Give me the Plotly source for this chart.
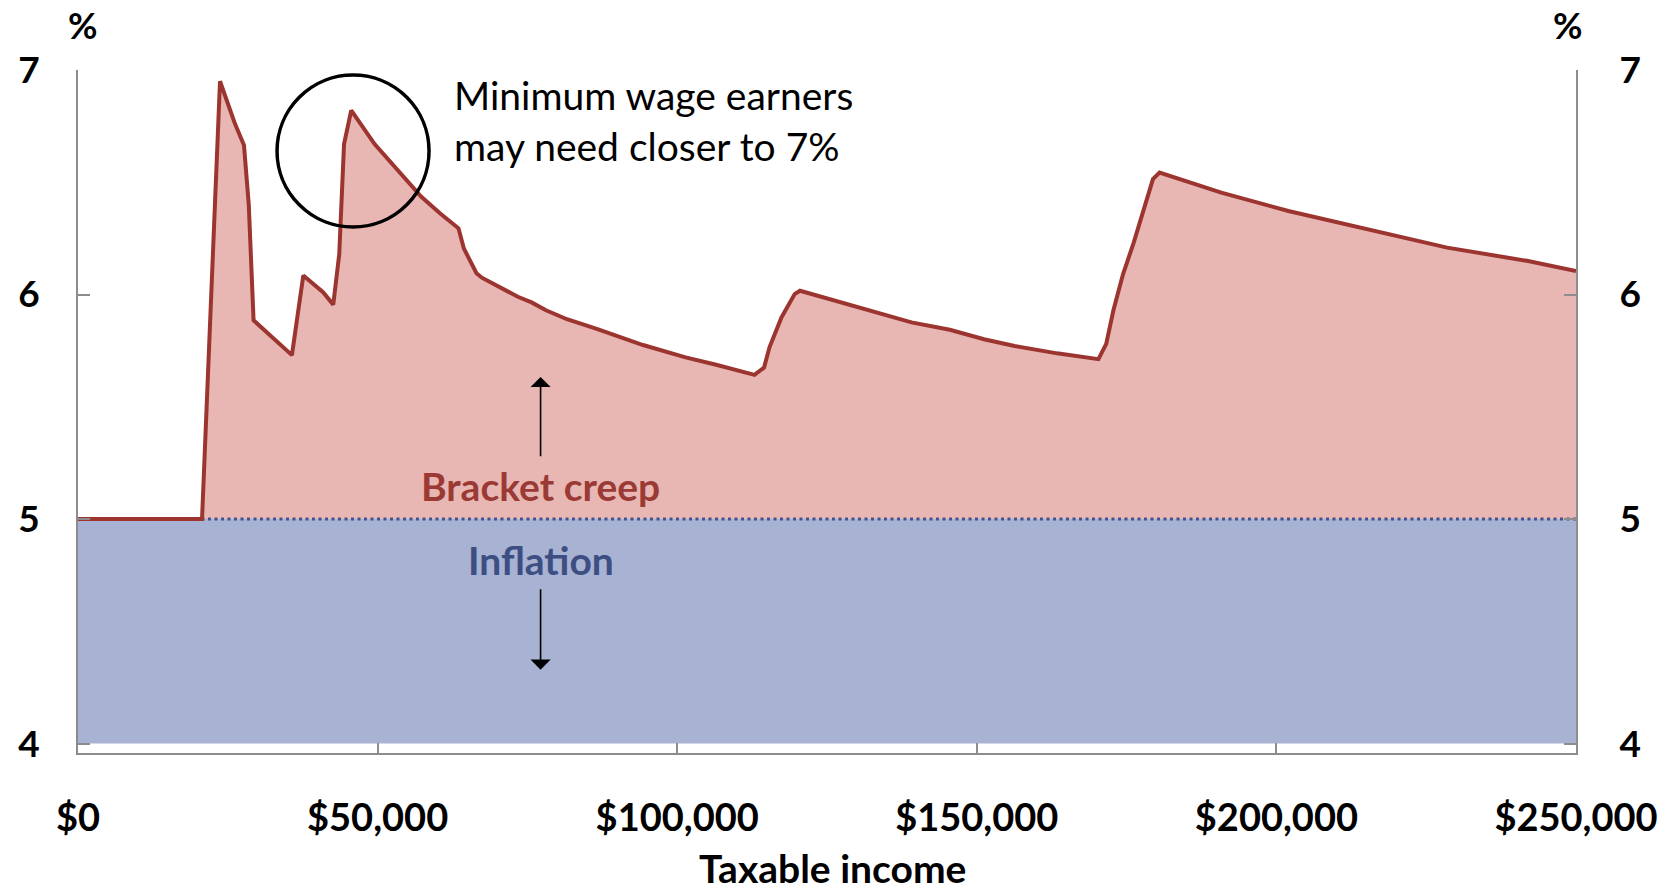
import plotly.graph_objects as go

# Required real increase in income (%) to keep average tax rate constant
income = [0, 20700, 23700, 26200, 27700, 28500, 29300, 33100, 35700, 37600,
          40900, 42600, 43600, 44400, 45600, 49500, 53700, 57300, 60500, 63500,
          64400, 66500, 67400, 70400, 73400, 75700, 78100, 81600, 86700, 94300,
          101400, 106500, 112900, 114500, 115400, 117400, 119600, 120500, 124400,
          131400, 139100, 145500, 151200, 156300, 163400, 170300, 171600, 172800,
          174400, 176200, 178200, 179400, 180500, 190800, 202000, 215300, 228500,
          241800, 250000]
required = [5.00, 5.00, 6.95, 6.76, 6.665, 6.40, 5.885, 5.79, 5.73, 6.085,
            6.01, 5.955, 6.18, 6.67, 6.82, 6.67, 6.54, 6.435, 6.36, 6.295,
            6.205, 6.095, 6.075, 6.03, 5.99, 5.965, 5.93, 5.89, 5.846, 5.775,
            5.72, 5.687, 5.642, 5.675, 5.765, 5.898, 6.002, 6.017, 5.988,
            5.935, 5.876, 5.843, 5.801, 5.771, 5.738, 5.712, 5.78, 5.93,
            6.09, 6.232, 6.402, 6.514, 6.543, 6.454, 6.372, 6.29, 6.209,
            6.15, 6.105]

inflation_x = [0, 250000]
inflation = [5, 5]
floor = [4, 4]

x_ticks = [0, 50000, 100000, 150000, 200000, 250000]
x_labels = ["$0", "$50,000", "$100,000", "$150,000", "$200,000", "$250,000"]
y_ticks = [4, 5, 6, 7]

RED = "#9C3530"
PINK = "#E8B7B4"
BLUE_FILL = "#A8B2D2"
BLUE = "#3F5490"
GREY = "#8C8C8C"
FONT = "Lato"

W, H = 1672, 891
ML, MR, MT, MB = 78, 96, 70, 138
plot_w = W - ML - MR
plot_h = H - MT - MB


def px_to_paper(x_px, y_px):
    return (x_px - ML) / plot_w, (H - MB - y_px) / plot_h


fig = go.Figure()
fig.add_trace(go.Scatter(x=inflation_x, y=floor, mode="lines",
                         line=dict(width=0), hoverinfo="skip"))
fig.add_trace(go.Scatter(x=inflation_x, y=inflation, mode="lines",
                         line=dict(width=0), fill="tonexty",
                         fillcolor=BLUE_FILL, hoverinfo="skip"))
fig.add_trace(go.Scatter(x=income, y=required, mode="lines",
                         line=dict(width=0), fill="tonexty",
                         fillcolor=PINK, hoverinfo="skip"))
fig.add_trace(go.Scatter(x=inflation_x, y=inflation, mode="lines",
                         line=dict(color=BLUE, width=3, dash="3px,3.5px"),
                         hoverinfo="skip"))
fig.add_trace(go.Scatter(x=income, y=required, mode="lines",
                         line=dict(color=RED, width=4)))
# invisible trace to carry the right-hand axis
fig.add_trace(go.Scatter(x=inflation_x, y=inflation, yaxis="y2", mode="lines",
                         line=dict(width=0), hoverinfo="skip"))

yaxis_common = dict(
    range=[3.958, 7], tickvals=y_ticks, ticktext=[str(v) for v in y_ticks],
    showgrid=False, zeroline=False, showline=True, linecolor=GREY, linewidth=2,
    ticks="inside", ticklen=12, tickwidth=2, tickcolor=GREY,
    tickfont=dict(family=FONT, size=37, color="black", weight="bold"),
)

fig.update_layout(
    width=W, height=H,
    paper_bgcolor="white", plot_bgcolor="white",
    showlegend=False,
    margin=dict(l=ML, r=MR, t=MT, b=MB),
    font=dict(family=FONT, color="black"),
    xaxis=dict(
        range=[0, 250000], tickvals=x_ticks, ticktext=x_labels,
        showgrid=False, zeroline=False, showline=True, linecolor=GREY,
        linewidth=2, ticks="inside", ticklen=10, tickwidth=2, tickcolor=GREY,
        ticklabelstandoff=30,
        tickfont=dict(family=FONT, size=38, color="black", weight="bold"),
    ),
    yaxis=dict(yaxis_common, ticklabelstandoff=29),
    yaxis2=dict(yaxis_common, overlaying="y", side="right",
                ticklabelstandoff=34),
)

fig.add_shape(type="circle", xref="x", yref="y", xsizemode="pixel",
              ysizemode="pixel", xanchor=45900, yanchor=6.639,
              x0=-76, x1=76, y0=-76, y1=76,
              line=dict(color="black", width=3.5))

fig.add_annotation(x=62470, y=6.777, xref="x", yref="y", xanchor="left",
                   yanchor="middle", align="left", showarrow=False,
                   text="Minimum wage earners<br>may need closer to 7%",
                   font=dict(family=FONT, size=39, color="black"))
fig.add_annotation(x=77200, y=5.148, xref="x", yref="y", showarrow=False,
                   text="<b>Bracket creep</b>",
                   font=dict(family=FONT, size=39, color="#9B3A34"))
fig.add_annotation(x=77200, y=4.818, xref="x", yref="y", showarrow=False,
                   text="<b>Inflation</b>",
                   font=dict(family=FONT, size=39, color="#3C4E82"))
for tip, tail in [(5.633, 5.273), (4.329, 4.694)]:
    fig.add_annotation(x=77200, y=tip, ax=77200, ay=tail, xref="x", yref="y",
                       axref="x", ayref="y", text="", showarrow=True,
                       arrowhead=1, arrowsize=2.1, arrowwidth=1.6,
                       arrowcolor="black")

for (xp, yp), txt, size in [((83, 25), "<b>%</b>", 36),
                            ((1568, 25), "<b>%</b>", 36),
                            ((832, 868), "<b>Taxable income</b>", 39)]:
    px, py = px_to_paper(xp, yp)
    fig.add_annotation(x=px, y=py, xref="paper", yref="paper",
                       xanchor="center", yanchor="middle", showarrow=False,
                       text=txt, font=dict(family=FONT, size=size))

# drop the default page margin so the figure fills the window exactly
fig.write_html("out.html", config={"displayModeBar": False},
               post_script="document.body.style.margin = '0';")
